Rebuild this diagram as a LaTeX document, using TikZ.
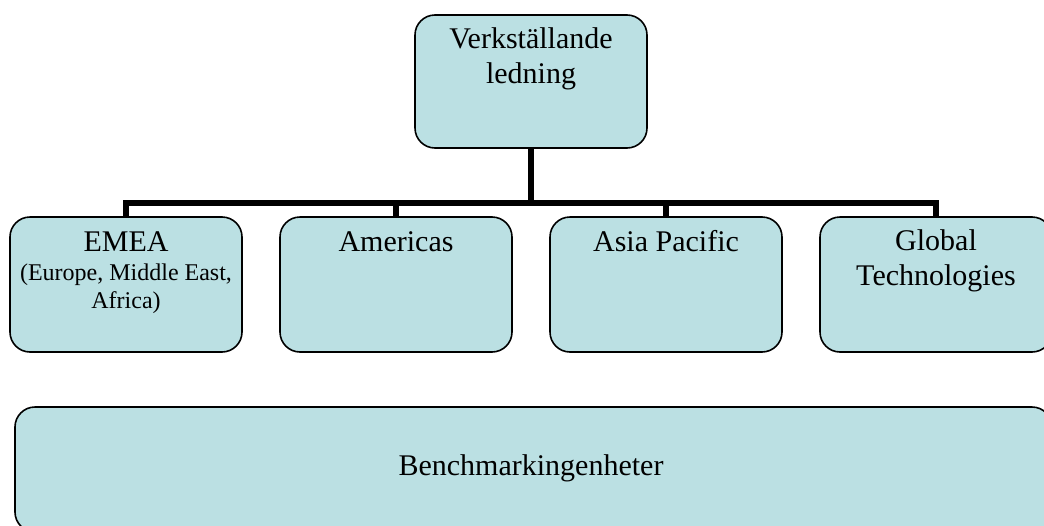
\documentclass[tikz,border=0pt]{standalone}
\usepackage{fontspec}
\setmainfont{Liberation Serif}
\definecolor{boxfill}{HTML}{BBE0E3}
\newcommand{\bigtxt}{\fontsize{30}{35}\selectfont}
\newcommand{\smalltxt}{\fontsize{24}{28}\selectfont}
% multi-line block whose baseline is that of its first line
\newcommand{\lines}[1]{{\setlength\tabcolsep{0pt}\begin{tabular}[t]{c}#1\end{tabular}}}
\begin{document}
\begin{tikzpicture}[x=1pt,y=-1pt,
  unit/.style={draw=black, line width=1.6pt, fill=boxfill, rounded corners=20pt,
    rectangle, anchor=north west, inner sep=0pt, outer sep=0pt,
    minimum width=232pt, minimum height=135pt},
  conn/.style={draw=black, line width=6pt, line join=miter},
  lbl/.style={anchor=base, inner sep=0pt, font=\bigtxt},
  sublbl/.style={anchor=base, inner sep=0pt, font=\smalltxt}]
\useasboundingbox (0,0) rectangle (1044,525);
\clip (0,0) rectangle (1044,525);

% boxes
\node[unit, minimum height=133pt] (top) at (415,15) {};
\node[unit] (emea) at (10,217) {};
\node[unit] (amer) at (280,217) {};
\node[unit] (asia) at (550,217) {};
\node[unit] (glob) at (820,217) {};
\node[unit, minimum width=1037pt, minimum height=125pt] (bench) at (15,407) {};

% tree connectors
\coordinate (bar) at (531,203);
\draw[conn] (top.south) -- (top.south |- bar);
\draw[conn] (emea.north) |- (bar) -| (glob.north);
\draw[conn] (amer.north) -- (amer.north |- bar);
\draw[conn] (asia.north) -- (asia.north |- bar);

% labels
\node[lbl] (toptxt) at (531,48) {\lines{Verkställande\\ledning}};
\node[lbl] (emeatxt) at (126,251) {EMEA};
\node[sublbl] (emeasub) at (126,280) {\lines{(Europe, Middle East,\\Africa)}};
\node[lbl] (amertxt) at (396,251) {Americas};
\node[lbl] (asiatxt) at (666,251) {Asia Pacific};
\node[lbl] (globtxt) at (936,250) {\lines{Global\\Technologies}};
\node[lbl] (benchtxt) at (531,475) {Benchmarkingenheter};
\end{tikzpicture}
\end{document}
